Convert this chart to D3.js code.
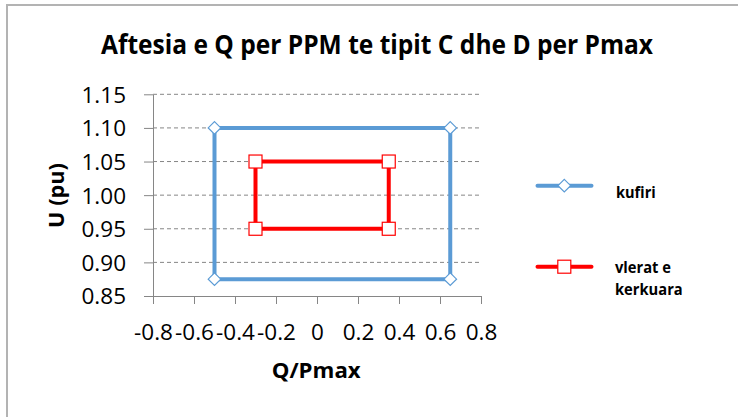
<!DOCTYPE html>
<html><head><meta charset="utf-8">
<script src="https://cdn.jsdelivr.net/npm/d3@7"></script>
<style>body{margin:0;background:#fff}svg{display:block}text{font-family:"Open Sans",sans-serif}</style>
</head><body><svg id="c" width="738" height="417"></svg>
<script>
const titleText = "Aftesia e Q per PPM te tipit C dhe D per Pmax";
const xLabelText = "Q/Pmax";
const yLabelText = "U (pu)";
const xTickValues = [-0.8, -0.6, -0.4, -0.2, 0, 0.2, 0.4, 0.6, 0.8];
const xTickLabels = ["-0.8", "-0.6", "-0.4", "-0.2", "0", "0.2", "0.4", "0.6", "0.8"];
const yTickValues = [0.85, 0.90, 0.95, 1.00, 1.05, 1.10, 1.15];
const yTickLabels = ["0.85", "0.90", "0.95", "1.00", "1.05", "1.10", "1.15"];
const seriesNames = ["kufiri", "vlerat e kerkuara"];
const kufiriQ = [-0.5, -0.5, 0.65, 0.65, -0.5];
const kufiriU = [0.875, 1.10, 1.10, 0.875, 0.875];
const vleratQ = [-0.3, -0.3, 0.35, 0.35, -0.3];
const vleratU = [0.95, 1.05, 1.05, 0.95, 0.95];

const svg = d3.select("#c");
const W = 738, H = 417;
const m = {left: 153, right: 481, top: 94.3, bottom: 296};
const x = d3.scaleLinear().domain([-0.8, 0.8]).range([m.left, m.right]);
const y = d3.scaleLinear().domain([0.85, 1.15]).range([m.bottom, m.top]);
const blue = "#5b9bd5", red = "#ff0000", axisCol = "#868686";

// squeeze text horizontally to a target width (Calibri is narrower than the fallback)
function fit(sel, target) {
  sel.attr("textLength", target).attr("lengthAdjust", "spacingAndGlyphs");
}

// chart border (left + top)
svg.append("path").attr("d", `M7,${H} L7,5 L${W},5`).attr("fill", "none")
  .attr("stroke", "#b3b3b3").attr("stroke-width", 2);

// title
const t = svg.append("text").attr("x", 101).attr("y", 54.3)
  .attr("font-weight", "bold").attr("font-size", 26.5).attr("fill", "#000").text(titleText);
fit(t, 552);

// gridlines
svg.append("g").selectAll("line").data(yTickValues.filter(v => v > 0.85)).join("line")
  .attr("x1", m.left).attr("x2", m.right).attr("y1", d => y(d)).attr("y2", d => y(d))
  .attr("stroke", axisCol).attr("stroke-width", 1).attr("stroke-dasharray", "4,3");

// y axis
const yAxis = svg.append("g").attr("transform", `translate(${m.left},0)`)
  .call(d3.axisLeft(y).tickValues(yTickValues).tickFormat((d, i) => yTickLabels[i]).tickSizeInner(9).tickSizeOuter(0).tickPadding(18));
yAxis.select(".domain").attr("stroke", axisCol);
yAxis.selectAll(".tick line").attr("stroke", axisCol);
yAxis.selectAll("text").attr("font-size", 22.5).attr("fill", "#000").attr("font-family", "Open Sans").attr("dy", "0.35em");

// x axis
const xAxis = svg.append("g").attr("transform", `translate(0,${m.bottom})`)
  .call(d3.axisBottom(x).tickValues(xTickValues).tickFormat((d, i) => xTickLabels[i]).tickSizeInner(8).tickSizeOuter(0).tickPadding(20));
xAxis.select(".domain").attr("stroke", axisCol);
xAxis.selectAll(".tick line").attr("stroke", axisCol);
xAxis.selectAll("text").attr("font-size", 22.5).attr("fill", "#000").attr("font-family", "Open Sans").attr("dy", "0.71em");

// axis titles
const xl = svg.append("text").attr("x", 271.7).attr("y", 378)
  .attr("font-weight", "bold").attr("font-size", 21).text(xLabelText);
fit(xl, 89);
const yl = svg.append("text").attr("transform", "translate(64,228) rotate(-90)")
  .attr("font-weight", "bold").attr("font-size", 21).text(yLabelText);
fit(yl, 65);

// series
const line = d3.line().x(d => x(d[0])).y(d => y(d[1]));
const kufiri = kufiriQ.map((q, i) => [q, kufiriU[i]]);
const vlerat = vleratQ.map((q, i) => [q, vleratU[i]]);
svg.append("path").datum(kufiri).attr("d", line).attr("fill", "none").attr("stroke", blue).attr("stroke-width", 4);
svg.append("path").datum(vlerat).attr("d", line).attr("fill", "none").attr("stroke", red).attr("stroke-width", 4);

const diamond = s => `M0,${-s} L${s},0 L0,${s} L${-s},0 Z`;
svg.append("g").selectAll("path").data(kufiri.slice(0, 4)).join("path")
  .attr("transform", d => `translate(${x(d[0])},${y(d[1])})`).attr("d", diamond(6.3))
  .attr("fill", "#fff").attr("stroke", blue).attr("stroke-width", 1.2);
svg.append("g").selectAll("rect").data(vlerat.slice(0, 4)).join("rect")
  .attr("x", d => x(d[0]) - 6.5).attr("y", d => y(d[1]) - 6.5).attr("width", 13).attr("height", 13)
  .attr("fill", "#fff").attr("stroke", red).attr("stroke-width", 1.2);

// legend
const lg = svg.append("g");
lg.append("line").attr("x1", 537.5).attr("x2", 591.5).attr("y1", 185.7).attr("y2", 185.7)
  .attr("stroke", blue).attr("stroke-width", 4).attr("stroke-linecap", "round");
lg.append("path").attr("transform", "translate(564.3,185.7)").attr("d", diamond(6.3))
  .attr("fill", "#fff").attr("stroke", blue).attr("stroke-width", 1.2);
const l1 = lg.append("text").attr("x", 616).attr("y", 198).attr("font-weight", "bold").attr("font-size", 16.5).text(seriesNames[0]);
fit(l1, 39.7);
lg.append("line").attr("x1", 537.5).attr("x2", 591.5).attr("y1", 266.7).attr("y2", 266.7)
  .attr("stroke", red).attr("stroke-width", 4).attr("stroke-linecap", "round");
lg.append("rect").attr("x", 564.3 - 6.5).attr("y", 266.7 - 6.5).attr("width", 13).attr("height", 13)
  .attr("fill", "#fff").attr("stroke", red).attr("stroke-width", 1.2);
const words = seriesNames[1].split(" ");
const l2 = lg.append("text").attr("x", 615).attr("y", 273.3).attr("font-weight", "bold").attr("font-size", 16.5).text(words.slice(0, 2).join(" "));
fit(l2, 56);
const l3 = lg.append("text").attr("x", 615).attr("y", 295).attr("font-weight", "bold").attr("font-size", 16.5).text(words[2]);
fit(l3, 67.7);
</script></body></html>
